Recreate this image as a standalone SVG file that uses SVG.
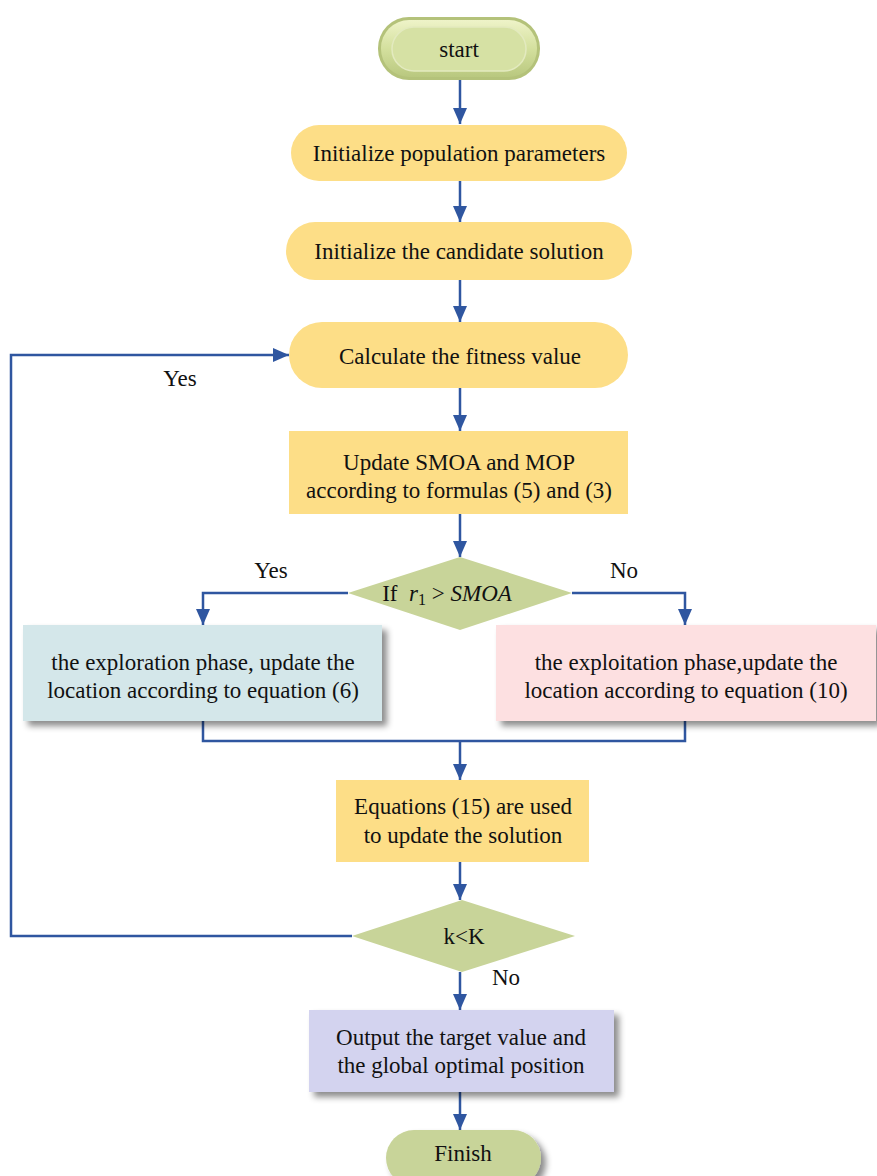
<svg xmlns="http://www.w3.org/2000/svg" width="877" height="1176" viewBox="0 0 877 1176" font-family="'Liberation Serif', 'DejaVu Serif', serif">
<defs>
<style>
text{font-family:'Liberation Serif','DejaVu Serif',serif;font-size:23px;fill:#111;text-anchor:middle}
.c{stroke:#2F56A0;stroke-width:2.5;fill:none}
.y{fill:#FDDE87}
.g{fill:#C8D499}
</style>
<marker id="a" viewBox="0 0 16 14" refX="16" refY="7" markerWidth="16" markerHeight="14" markerUnits="userSpaceOnUse" orient="auto">
<path d="M0,0 L16,7 L0,14 z" fill="#2F56A0"/>
</marker>
<filter id="sh" x="-10%" y="-10%" width="130%" height="140%">
<feDropShadow dx="5" dy="5" stdDeviation="3" flood-color="#000" flood-opacity="0.45"/>
</filter>
<linearGradient id="gl" x1="0" y1="0" x2="0" y2="1">
<stop offset="0" stop-color="#EEF3C8"/>
<stop offset="0.5" stop-color="#D4E09E"/>
<stop offset="1" stop-color="#B9C87F"/>
</linearGradient>
</defs>

<g id="connectors">
<line class="c" x1="460" y1="80" x2="460" y2="124" marker-end="url(#a)"/>
<line class="c" x1="460" y1="181" x2="460" y2="222" marker-end="url(#a)"/>
<line class="c" x1="460" y1="280" x2="460" y2="322" marker-end="url(#a)"/>
<line class="c" x1="460" y1="388" x2="460" y2="431" marker-end="url(#a)"/>
<line class="c" x1="460" y1="514" x2="460" y2="557" marker-end="url(#a)"/>
<polyline class="c" points="348,593 203,593 203,625" marker-end="url(#a)"/>
<polyline class="c" points="572,593 685,593 685,625" marker-end="url(#a)"/>
<polyline class="c" points="203,721 203,741 685,741 685,721"/>
<line class="c" x1="460" y1="741" x2="460" y2="780" marker-end="url(#a)"/>
<line class="c" x1="460" y1="862" x2="460" y2="900" marker-end="url(#a)"/>
<polyline class="c" points="352,936 11,936 11,355 289,355" marker-end="url(#a)"/>
<line class="c" x1="460" y1="972" x2="460" y2="1010" marker-end="url(#a)"/>
<line class="c" x1="460" y1="1092" x2="460" y2="1130" marker-end="url(#a)"/>
<text x="271" y="578">Yes</text>
<text x="624" y="578">No</text>
<text x="180" y="386">Yes</text>
<text x="506" y="985">No</text>
</g>

<g id="start">
<rect x="378" y="17" width="162" height="63" rx="31" fill="#B4C27A"/>
<rect x="381" y="20" width="156" height="57" rx="28" fill="url(#gl)"/>
<rect x="392" y="27" width="134" height="44" rx="22" fill="#D6E1A4" stroke="#E3EABF" stroke-width="1.5"/>
<text x="459" y="57">start</text>
</g>

<g id="init-pop">
<rect class="y" x="291" y="125" width="336" height="56" rx="28"/>
<text x="459" y="161" font-size="23.3">Initialize population parameters</text>
</g>

<g id="init-cand">
<rect class="y" x="286" y="222" width="346" height="58" rx="29"/>
<text x="459" y="259">Initialize the candidate solution</text>
</g>

<g id="fitness">
<rect class="y" x="289" y="322" width="339" height="66" rx="33"/>
<text x="460" y="364">Calculate the fitness value</text>
</g>

<g id="update">
<rect class="y" x="289" y="431" width="339" height="83"/>
<text x="459" y="470">Update SMOA and MOP</text>
<text x="459" y="498">according to formulas (5) and (3)</text>
</g>

<g id="cond1">
<polygon class="g" points="460,557 572,593 460,630 348,593"/>
<text x="447" y="601" font-size="24.5" xml:space="preserve">If  <tspan font-style="italic">r</tspan><tspan font-size="16" dy="4">1</tspan><tspan dy="-4"> &gt; </tspan><tspan font-style="italic">SMOA</tspan></text>
</g>

<g id="exploration">
<rect x="23" y="625" width="359" height="96" fill="#D4E7EA" filter="url(#sh)"/>
<text x="203" y="670" font-size="23.5">the exploration phase, update the</text>
<text x="203" y="698" font-size="23.5">location according to equation (6)</text>
</g>

<g id="exploitation">
<rect x="496" y="625" width="380" height="96" fill="#FDE0E1" filter="url(#sh)"/>
<text x="686" y="670" font-size="23.5">the exploitation phase,update the</text>
<text x="686" y="698" font-size="23.5">location according to equation (10)</text>
</g>

<g id="equations">
<rect class="y" x="336" y="780" width="253" height="82"/>
<text x="463" y="814">Equations (15) are used</text>
<text x="463" y="843">to update the solution</text>
</g>

<g id="cond2">
<polygon class="g" points="462,900 575,936 462,972 352,936"/>
<text x="464" y="944">k&lt;K</text>
</g>

<g id="output">
<rect x="309" y="1010" width="305" height="82" fill="#D3D3EF" filter="url(#sh)"/>
<text x="461" y="1045">Output the target value and</text>
<text x="461" y="1073">the global optimal position</text>
</g>

<g id="finish">
<rect class="g" x="386" y="1130" width="155" height="56" rx="28" filter="url(#sh)"/>
<text x="463" y="1161">Finish</text>
</g>
</svg>
